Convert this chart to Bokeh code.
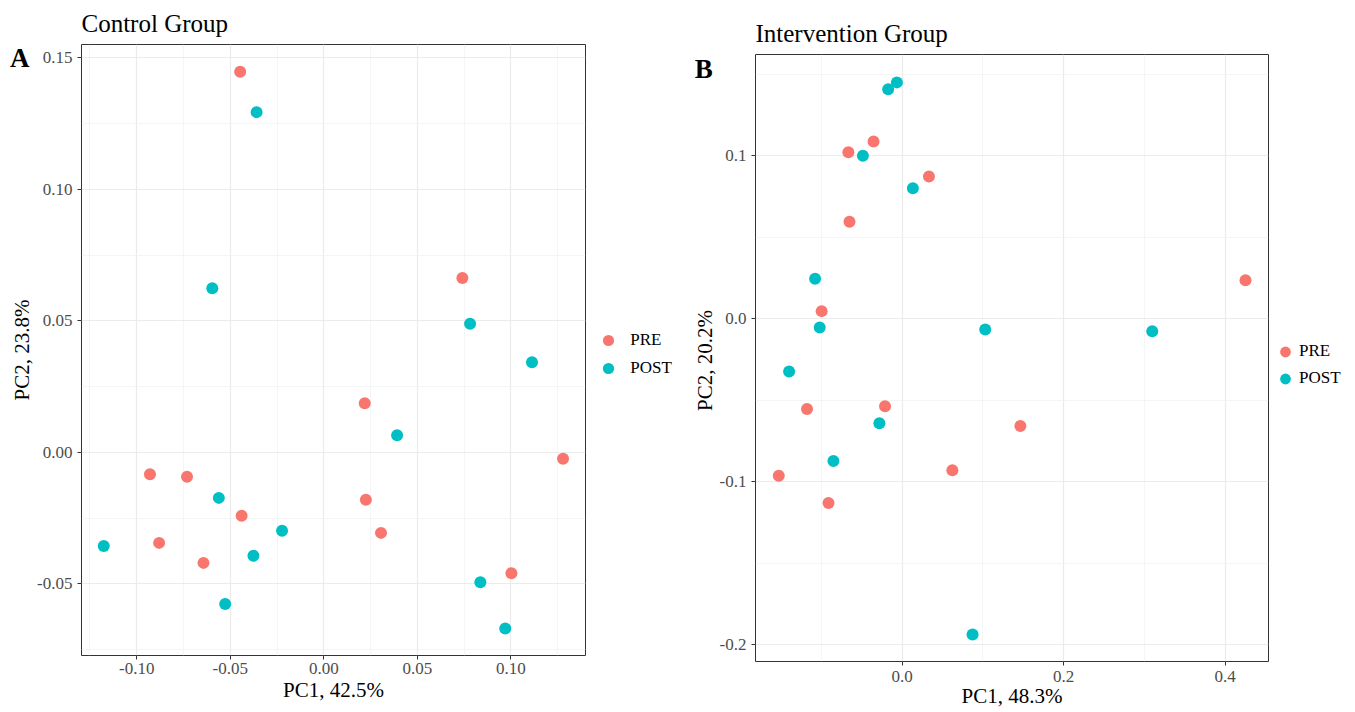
import math
from bokeh.plotting import figure
from bokeh.layouts import row, column
from bokeh.models import Range1d, FixedTicker, PrintfTickFormatter, Legend, LegendItem
from bokeh.core.properties import value
from bokeh.embed import file_html
from bokeh.resources import INLINE

# ---------------- data ----------------
groups = ["PRE", "POST"]
group_colors = ["#F8766D", "#00BFC4"]

# Control group (panel A)
ctrl_pre_pc1 = [-0.0447, 0.0741, 0.0219, 0.1279, -0.0929, -0.0731, 0.0225, -0.0439, 0.0306, -0.0880, -0.0643, 0.1003]
ctrl_pre_pc2 = [0.1446, 0.0663, 0.0187, -0.0024, -0.0083, -0.0093, -0.0180, -0.0241, -0.0306, -0.0344, -0.0420, -0.0459]
ctrl_post_pc1 = [-0.0359, -0.0596, 0.0782, 0.1113, 0.0392, -0.0561, -0.0223, -0.1176, -0.0376, 0.0837, -0.0527, 0.0970]
ctrl_post_pc2 = [0.1293, 0.0624, 0.0489, 0.0342, 0.0065, -0.0173, -0.0298, -0.0356, -0.0393, -0.0494, -0.0576, -0.0669]

# Intervention group (panel B)
int_pre_pc1 = [-0.0667, -0.0355, 0.0331, -0.0653, -0.0998, 0.4251, -0.1179, -0.0213, 0.1463, 0.0621, -0.1529, -0.0913]
int_pre_pc2 = [0.1022, 0.1088, 0.0872, 0.0595, 0.0047, 0.0237, -0.0554, -0.0536, -0.0657, -0.0929, -0.0962, -0.1130]
int_post_pc1 = [-0.0174, -0.0066, -0.0487, 0.0132, -0.1079, -0.1022, 0.1028, 0.3096, -0.1401, -0.0283, -0.0852, 0.0871]
int_post_pc2 = [0.1408, 0.1450, 0.1000, 0.0801, 0.0245, -0.0053, -0.0065, -0.0077, -0.0323, -0.0641, -0.0872, -0.1937]

# ticks
a_xticks = [-0.10, -0.05, 0.0, 0.05, 0.10]
a_xminor = [-0.125, -0.075, -0.025, 0.025, 0.075, 0.125]
a_yticks = [-0.05, 0.0, 0.05, 0.10, 0.15]
a_yminor = [-0.075, -0.025, 0.025, 0.075, 0.125]
b_xticks = [0.0, 0.2, 0.4]
b_xminor = [-0.1, 0.1, 0.3]
b_yticks = [-0.2, -0.1, 0.0, 0.1]
b_yminor = [-0.15, -0.05, 0.05, 0.15]

# texts
titles = ["Control Group", "Intervention Group"]
panel_tags = ["A", "B"]
x_labels = ["PC1, 42.5%", "PC1, 48.3%"]
y_labels = ["PC2, 23.8%", "PC2, 20.2%"]

FONT = "Liberation Serif"
H = 712
NAN = float("nan")


def style(p, xt, xm, yt, ym, fmt):
    p.xaxis.ticker = FixedTicker(ticks=xt, minor_ticks=xm)
    p.yaxis.ticker = FixedTicker(ticks=yt, minor_ticks=ym)
    p.xaxis.formatter = PrintfTickFormatter(format=fmt)
    p.yaxis.formatter = PrintfTickFormatter(format=fmt)
    for ax in (p.xaxis[0], p.yaxis[0]):
        ax.axis_line_color = None
        ax.major_tick_line_color = "#333333"
        ax.major_tick_line_width = 1
        ax.major_tick_out = 4
        ax.major_tick_in = 0
        ax.minor_tick_line_color = None
        ax.major_label_text_font = FONT
        ax.major_label_text_font_size = "17px"
        ax.major_label_text_color = "#4D4D4D"
        ax.axis_label_text_font = FONT
        ax.axis_label_text_font_size = "21px"
        ax.axis_label_text_font_style = "normal"
        ax.axis_label_text_color = "black"
    p.yaxis.major_label_standoff = 5
    p.xgrid.grid_line_color = "#EBEBEB"
    p.ygrid.grid_line_color = "#EBEBEB"
    p.xgrid.grid_line_width = 1.2
    p.ygrid.grid_line_width = 1.2
    p.xgrid.minor_grid_line_color = "#F0F0F0"
    p.ygrid.minor_grid_line_color = "#F0F0F0"
    p.xgrid.minor_grid_line_width = 0.7
    p.ygrid.minor_grid_line_width = 0.7
    p.outline_line_color = "#333333"
    p.outline_line_width = 1
    p.background_fill_color = "white"
    p.border_fill_color = "white"
    p.title.text_font = FONT
    p.title.text_font_size = "25px"
    p.title.text_font_style = "normal"
    p.title.text_color = "black"
    p.title.align = "left"
    p.title.offset = 0


def blank_strip(width):
    s = figure(width=width, height=H, output_backend="svg", toolbar_location=None, title=None,
               x_range=Range1d(0, width), y_range=Range1d(0, H),
               x_axis_type=None, y_axis_type=None,
               min_border_left=0, min_border_right=0, min_border_top=0, min_border_bottom=0)
    s.outline_line_color = None
    s.grid.visible = False
    s.background_fill_color = "white"
    s.border_fill_color = "white"
    return s


def side_strip(width, tag, tag_x, tag_y, ylab, ylab_x, ylab_y):
    """Narrow strip left of a panel holding the panel tag and the y-axis title."""
    s = blank_strip(width)
    s.text(x=[tag_x], y=[tag_y], text=[tag], text_font=value(FONT), text_font_size="27px",
           text_font_style="bold", text_align="left", text_baseline="middle", text_color="black")
    s.text(x=[ylab_x], y=[ylab_y], text=[ylab], angle=math.pi / 2, text_font=value(FONT),
           text_font_size="21px", text_align="center", text_baseline="middle", text_color="black")
    return s


def legend_strip(width, vx, vy, gw, gh, standoff):
    """Narrow strip right of a panel holding the group legend."""
    s = blank_strip(width)
    k1 = s.scatter([NAN], [NAN], size=12, color=group_colors[0], line_color=None)
    k2 = s.scatter([NAN], [NAN], size=12, color=group_colors[1], line_color=None)
    leg = Legend(items=[LegendItem(label=groups[0], renderers=[k1]),
                        LegendItem(label=groups[1], renderers=[k2])],
                 location=(vx, vy), glyph_width=gw, glyph_height=gh,
                 label_standoff=standoff, padding=0, margin=0, spacing=0,
                 border_line_color=None, background_fill_alpha=0,
                 label_text_font=FONT, label_text_font_size="17px",
                 label_text_color="black", label_height=gh)
    s.add_layout(leg)
    return s


# ---------------- panel A ----------------
strip_a = side_strip(34, panel_tags[0], 9.6, H - 57.5, y_labels[0], 21, H - 349.5)

pa = figure(width=553, height=H, output_backend="svg", toolbar_location=None,
            x_range=Range1d(-0.1295, 0.1399), y_range=Range1d(-0.0772, 0.155),
            min_border_left=46, min_border_right=2, min_border_top=44, min_border_bottom=57,
            title=titles[0])
style(pa, a_xticks, a_xminor, a_yticks, a_yminor, "%.2f")
pa.title.standoff = 15
pa.xaxis.axis_label = x_labels[0]
pa.xaxis.major_label_standoff = 3
pa.xaxis.axis_label_standoff = 1
pa.scatter(ctrl_pre_pc1, ctrl_pre_pc2, size=12, color=group_colors[0], line_color=None)
pa.scatter(ctrl_post_pc1, ctrl_post_pc2, size=12, color=group_colors[1], line_color=None)

leg_a = legend_strip(93, 6.3, H - 382.3, 30, 28, 7)

# ---------------- panel B ----------------
strip_b = side_strip(36, panel_tags[1], 14.2, H - 68.3, y_labels[1], 24, H - 360)

pb = figure(width=554, height=H, output_backend="svg", toolbar_location=None,
            x_range=Range1d(-0.1817, 0.4536), y_range=Range1d(-0.2102, 0.1621),
            min_border_left=38, min_border_right=2, min_border_top=54, min_border_bottom=51,
            title=titles[1])
style(pb, b_xticks, b_xminor, b_yticks, b_yminor, "%.1f")
pb.title.standoff = 14.5
pb.xaxis.axis_label = x_labels[1]
pb.xaxis.major_label_standoff = 5
pb.xaxis.axis_label_standoff = -1
pb.scatter(int_pre_pc1, int_pre_pc2, size=12, color=group_colors[0], line_color=None)
pb.scatter(int_post_pc1, int_post_pc2, size=12, color=group_colors[1], line_color=None)

leg_b = legend_strip(83, 1, H - 391.8, 28, 27, 0)

layout = row(column(strip_a), column(pa), column(leg_a),
             column(strip_b), column(pb), column(leg_b))
open("out.html", "w").write(file_html(layout, INLINE))
